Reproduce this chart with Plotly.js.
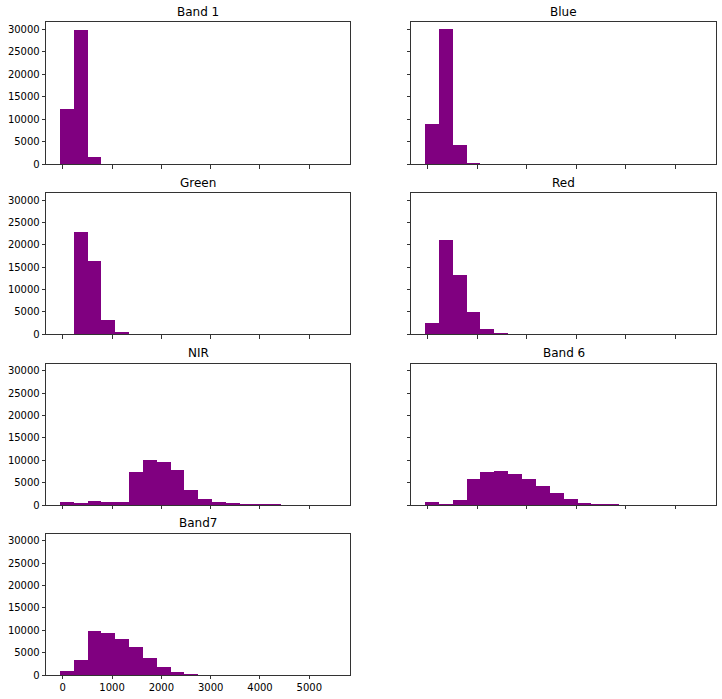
<!DOCTYPE html>
<html>
<head>
<meta charset="utf-8">
<script src="https://cdn.plot.ly/plotly-3.0.1.min.js"></script>
<style>html,body{margin:0;padding:0;background:#fff;}#chart{width:722px;height:699px;}</style>
</head>
<body>
<div id="chart"></div>
<script>
// Band names (subplot titles)
const bandNames = ["Band 1", "Blue", "Green", "Red", "NIR", "Band 6", "Band7"];
// Shared histogram bins (20 bins)
const binStart = -58;
const binWidth = 280.45;
// Counts per bin for each band
const band1 = [12250, 29850, 1570, 0, 0, 0, 0, 0, 0, 0, 0, 0, 0, 0, 0, 0, 0, 0, 0, 0];
const blue  = [8900, 30050, 4230, 230, 0, 0, 0, 0, 0, 0, 0, 0, 0, 0, 0, 0, 0, 0, 0, 0];
const green = [0, 22950, 16500, 3180, 510, 0, 0, 0, 0, 0, 0, 0, 0, 0, 0, 0, 0, 0, 0, 0];
const red   = [2500, 21170, 13180, 4950, 1180, 290, 0, 0, 0, 0, 0, 0, 0, 0, 0, 0, 0, 0, 0, 0];
const nir   = [660, 440, 860, 660, 660, 7260, 10120, 9680, 7920, 3300, 1320, 660, 440, 220, 220, 220, 0, 0, 0, 0];
const band6 = [660, 220, 1100, 5720, 7480, 7700, 6820, 5720, 4180, 2640, 1320, 440, 220, 220, 0, 0, 0, 0, 0, 0];
const band7 = [880, 3300, 9900, 9460, 8140, 6160, 3740, 1760, 660, 220, 0, 0, 0, 0, 0, 0, 0, 0, 0, 0];
const xTicks = [0, 1000, 2000, 3000, 4000, 5000];
const yTicks = [0, 5000, 10000, 15000, 20000, 25000, 30000];

const allCounts = [band1, blue, green, red, nir, band6, band7];
const barColor = "#800080";

const W = 722, H = 699;
const colPx = [[46, 350.3], [411, 716.3]];
const rowPx = [[22.3, 164.3], [193.3, 334.3], [363.7, 505], [533.7, 675]];

const centers = band1.map((_, i) => binStart + (i + 0.5) * binWidth);
const traces = [];
const layout = {
  width: W, height: H,
  margin: {l: 0, r: 0, t: 0, b: 0},
  paper_bgcolor: "#fff", plot_bgcolor: "#fff",
  showlegend: false,
  font: {family: "DejaVu Sans", size: 10, color: "#000"},
  bargap: 0,
  annotations: []
};

const xMin = -338.6, xMax = 5831;
const yMax = 31555;

allCounts.forEach((counts, k) => {
  const row = Math.floor(k / 2), col = k % 2;
  const idx = k + 1;
  const xa = "xaxis" + (idx === 1 ? "" : idx);
  const ya = "yaxis" + (idx === 1 ? "" : idx);
  traces.push({
    type: "bar",
    x: centers,
    y: counts,
    width: binWidth,
    marker: {color: barColor, line: {width: 0}},
    xaxis: "x" + (idx === 1 ? "" : idx),
    yaxis: "y" + (idx === 1 ? "" : idx),
    hoverinfo: "x+y"
  });
  const dx = [colPx[col][0] / W, colPx[col][1] / W];
  const dy = [1 - rowPx[row][1] / H, 1 - rowPx[row][0] / H];
  const showXLabels = (k === 6);
  layout[xa] = {
    domain: dx, range: [xMin, xMax],
    tickmode: "array", tickvals: xTicks, ticktext: xTicks.map(String),
    showticklabels: showXLabels,
    ticks: "outside", ticklen: 3.5, tickwidth: 0.8, tickcolor: "#000",
    showgrid: false, zeroline: false,
    showline: true, linecolor: "#000", linewidth: 0.8, mirror: true,
    anchor: "y" + (idx === 1 ? "" : idx),
    tickfont: {size: 10, color: "#000", family: "DejaVu Sans"},
    fixedrange: true
  };
  layout[ya] = {
    domain: dy, range: [0, yMax],
    tickmode: "array", tickvals: yTicks, ticktext: yTicks.map(String),
    showticklabels: col === 0,
    ticks: "outside", ticklen: 3.5, tickwidth: 0.8, tickcolor: "#000",
    showgrid: false, zeroline: false,
    showline: true, linecolor: "#000", linewidth: 0.8, mirror: true,
    anchor: "x" + (idx === 1 ? "" : idx),
    tickfont: {size: 10, color: "#000", family: "DejaVu Sans"},
    fixedrange: true
  };
  layout.annotations.push({
    text: bandNames[k],
    xref: "paper", yref: "paper",
    x: (dx[0] + dx[1]) / 2, y: dy[1] + 1.5 / H,
    xanchor: "center", yanchor: "bottom",
    showarrow: false,
    font: {size: 12, color: "#000", family: "DejaVu Sans"}
  });
});

Plotly.newPlot("chart", traces, layout, {staticPlot: true});
</script>
</body>
</html>
